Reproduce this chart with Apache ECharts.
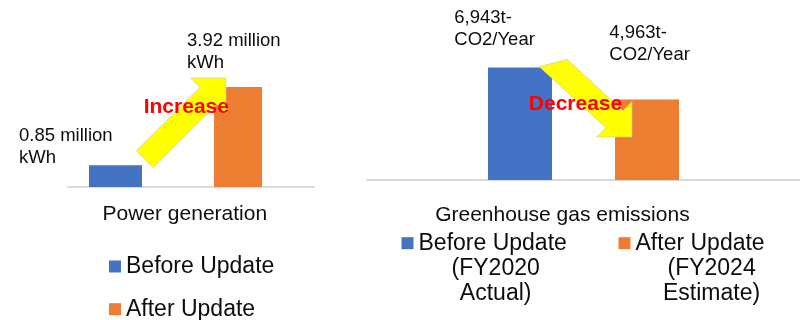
<!DOCTYPE html>
<html>
<head>
<meta charset="utf-8">
<script src="https://cdn.jsdelivr.net/npm/echarts@6/dist/echarts.min.js"></script>
<style>
  html, body { margin: 0; padding: 0; background: #fff; }
  #chart { width: 800px; height: 320px; }
</style>
</head>
<body>
<div id="chart"></div>
<script>
// Power generation, million kWh
const powerCategories = ['Power generation'];
const powerBefore = [0.85];
const powerAfter = [3.92];
const powerSeriesNames = ['Before Update', 'After Update'];

// Greenhouse gas emissions, t-CO2 per year
const ghgCategories = ['Greenhouse gas emissions'];
const ghgBefore = [6943];
const ghgAfter = [4963];
const ghgLegendLines = [
  ['Before Update', '(FY2020', 'Actual)'],
  ['After Update', '(FY2024', 'Estimate)']
];
const ghgSeriesNames = ghgLegendLines.map(l => l.join(' '));

const FONT = "'Liberation Sans', Arial, sans-serif";
const TEXT = '#0d0d0d';
const BLUE = '#4472C4';
const ORANGE = '#ED7D31';
const AXIS = '#D9D9D9';

const powerLabel = p => `${p.value.toFixed(2)} million\nkWh`;
const ghgLabel = p => `${p.value.toLocaleString('en-US')}t-\nCO2/Year`;

const labelBase = {
  show: true, align: 'left', verticalAlign: 'top',
  fontSize: 18.5, lineHeight: 22, color: TEXT, fontFamily: FONT
};

const hiddenY = (gridIndex, max) => ({ type: 'value', gridIndex, min: 0, max, show: false });

// Yellow block arrows (outline points, pixels)
const arrowUp = [[226, 78], [226, 113.4], [216.9, 104.2], [153.3, 167.8], [136.3, 150.8], [199.9, 87.2], [190.6, 78]];
const arrowDown = [[632, 137], [596.6, 137], [605.8, 127.8], [539.3, 66.7], [567.3, 59.3], [622.8, 110.8], [632, 101.6]];

const chart = echarts.init(document.getElementById('chart'), null, { renderer: 'canvas' });

chart.setOption({
  animation: false,
  backgroundColor: '#fff',
  textStyle: { fontFamily: FONT },
  grid: [
    { left: 68, right: 517, top: 59.5, bottom: 133 },   // power bars
    { left: 68, right: 486, top: 59.5, bottom: 133 },   // power baseline
    { left: 367, right: -8, top: 50.4, bottom: 140 }    // emissions
  ],
  xAxis: [
    { type: 'category', gridIndex: 0, data: powerCategories,
      axisLine: { show: false }, axisTick: { show: false }, axisLabel: { show: false } },
    { type: 'category', gridIndex: 1, data: powerCategories,
      axisLine: { lineStyle: { color: AXIS, width: 2 } }, axisTick: { show: false },
      axisLabel: { fontSize: 21, lineHeight: 21, color: TEXT, margin: 16.8, padding: [0, 12.4, 0, 0] } },
    { type: 'category', gridIndex: 2, data: ghgCategories,
      axisLine: { lineStyle: { color: AXIS, width: 2 } }, axisTick: { show: false },
      axisLabel: { fontSize: 21, lineHeight: 21, color: TEXT, margin: 24.5, padding: [0, 42.2, 0, 0] } }
  ],
  yAxis: [hiddenY(0, 5), hiddenY(1, 5), hiddenY(2, 8000)],
  legend: [
    {
      data: powerSeriesNames, orient: 'vertical', left: 109, top: 253.5, height: 90, padding: 0,
      itemWidth: 12, itemHeight: 12, itemGap: 16.7, icon: 'rect', selectedMode: false,
      textStyle: { fontSize: 23, lineHeight: 26, color: TEXT, fontFamily: FONT }
    },
    {
      data: ghgSeriesNames, orient: 'horizontal', left: 401.5, top: 231.7, padding: 0,
      itemWidth: 12, itemHeight: 12, itemGap: 51.7, icon: 'rect', selectedMode: false,
      formatter: name => {
        const i = ghgSeriesNames.indexOf(name);
        const l = ghgLegendLines[i];
        return `{h|${l[0]}}\n{s${i}|${l[1]}}\n{s${i}|${l[2]}}`;
      },
      // top padding keeps the marker level with the first line of the wrapped name
      textStyle: {
        fontSize: 23, color: TEXT, fontFamily: FONT, padding: [50, 0, 0, 0],
        rich: {
          h: { fontSize: 23, lineHeight: 25, align: 'center', color: TEXT, fontFamily: FONT },
          s0: { fontSize: 23, lineHeight: 25, align: 'center', color: TEXT, fontFamily: FONT, padding: [0, 0, 0, 6] },
          s1: { fontSize: 23, lineHeight: 25, align: 'center', color: TEXT, fontFamily: FONT, padding: [0, 0, 0, 23] }
        }
      }
    }
  ],
  series: [
    {
      name: powerSeriesNames[0], type: 'bar', xAxisIndex: 0, yAxisIndex: 0,
      data: powerBefore, barWidth: 53, barGap: '135.85%',
      itemStyle: { color: BLUE },
      label: Object.assign({}, labelBase, { position: [-70, -40.8], formatter: powerLabel })
    },
    {
      name: powerSeriesNames[1], type: 'bar', xAxisIndex: 0, yAxisIndex: 0,
      data: powerAfter, barWidth: 48, barGap: '135.85%',
      itemStyle: { color: ORANGE },
      label: Object.assign({}, labelBase, { position: [-27, -57.5], formatter: powerLabel })
    },
    {
      name: ghgSeriesNames[0], type: 'bar', xAxisIndex: 2, yAxisIndex: 2,
      data: ghgBefore, barWidth: 64, barGap: '98.44%',
      itemStyle: { color: BLUE },
      label: Object.assign({}, labelBase, { position: [-33.7, -61], formatter: ghgLabel })
    },
    {
      name: ghgSeriesNames[1], type: 'bar', xAxisIndex: 2, yAxisIndex: 2,
      data: ghgAfter, barWidth: 64, barGap: '98.44%',
      itemStyle: { color: ORANGE },
      label: Object.assign({}, labelBase, { position: [-5.7, -78.1], formatter: ghgLabel })
    }
  ],
  graphic: [
    { type: 'polygon', z: 10, shape: { points: arrowUp },
      style: { fill: '#FFFF00', stroke: 'rgba(200,200,190,0.8)', lineWidth: 0.8 } },
    { type: 'polygon', z: 10, shape: { points: arrowDown },
      style: { fill: '#FFFF00', stroke: 'rgba(200,200,190,0.8)', lineWidth: 0.8 } },
    { type: 'text', z: 11, x: 186.3, y: 107.2,
      style: { text: 'Increase', fill: '#FF0000', fontSize: 21, fontWeight: 'bold', fontFamily: FONT,
               align: 'center', verticalAlign: 'middle' } },
    { type: 'text', z: 11, x: 575.5, y: 104.2,
      style: { text: 'Decrease', fill: '#FF0000', fontSize: 21, fontWeight: 'bold', fontFamily: FONT,
               align: 'center', verticalAlign: 'middle' } }
  ]
});
</script>
</body>
</html>
